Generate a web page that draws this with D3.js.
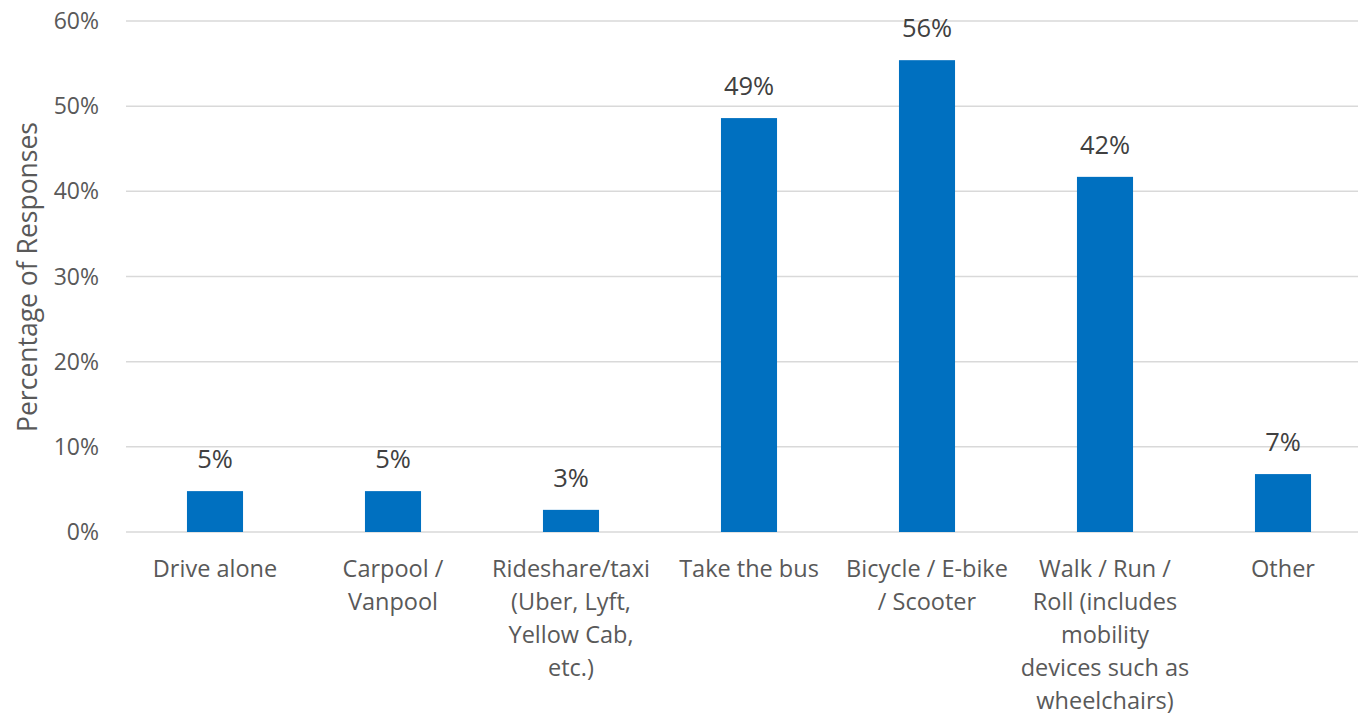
<!DOCTYPE html>
<html>
<head>
<meta charset="utf-8">
<script src="https://cdn.jsdelivr.net/npm/d3@7"></script>
<style>
  body { margin: 0; background: #fff; }
  svg { font-family: "Open Sans", Lato, sans-serif; }
</style>
</head>
<body>
<svg id="chart" width="1358" height="715"></svg>
<script>
// data
const categories = [
    ["Drive alone"],
    ["Carpool /", "Vanpool"],
    ["Rideshare/taxi", "(Uber, Lyft,", "Yellow Cab,", "etc.)"],
    ["Take the bus"],
    ["Bicycle / E-bike", "/ Scooter"],
    ["Walk / Run /", "Roll (includes", "mobility", "devices such as", "wheelchairs)"],
    ["Other"]
];
const values = [4.8, 4.8, 2.6, 48.6, 55.4, 41.7, 6.8];
const valueLabels = ["5%", "5%", "3%", "49%", "56%", "42%", "7%"];
const yTicks = [0, 10, 20, 30, 40, 50, 60];

const marginLeft = 126, plotRight = 1372, plotTop = 21, plotBottom = 532;

const svg = d3.select("#chart");

const x = d3.scaleBand()
    .domain(d3.range(categories.length))
    .range([marginLeft, plotRight])
    .paddingInner(0.685)
    .paddingOuter(0.3425);

const y = d3.scaleLinear().domain([0, 60]).range([plotBottom, plotTop]);

// gridlines
svg.append("g")
    .selectAll("line")
    .data(yTicks)
    .join("line")
    .attr("x1", marginLeft)
    .attr("x2", plotRight)
    .attr("y1", d => y(d))
    .attr("y2", d => y(d))
    .attr("stroke", "#d9d9d9")
    .attr("stroke-width", 1.5);

// y tick labels
svg.append("g")
    .selectAll("text")
    .data(yTicks)
    .join("text")
    .attr("x", 99)
    .attr("y", d => y(d))
    .attr("dy", "0.35em")
    .attr("text-anchor", "end")
    .attr("fill", "#595959")
    .attr("font-size", 23)
    .text(d => d + "%");

// axis title
svg.append("text")
    .attr("transform", `translate(37,${(plotTop + plotBottom) / 2 + 0.5}) rotate(-90)`)
    .attr("text-anchor", "middle")
    .attr("fill", "#595959")
    .attr("font-size", 26.5)
    .text("Percentage of Responses");

// bars
svg.append("g")
    .selectAll("rect")
    .data(values)
    .join("rect")
    .attr("x", (d, i) => x(i))
    .attr("width", x.bandwidth())
    .attr("y", d => y(d))
    .attr("height", d => y(0) - y(d))
    .attr("fill", "#0070c0");

// value labels
svg.append("g")
    .selectAll("text")
    .data(values)
    .join("text")
    .attr("x", (d, i) => x(i) + x.bandwidth() / 2)
    .attr("y", d => y(d) - 23)
    .attr("text-anchor", "middle")
    .attr("fill", "#404040")
    .attr("font-size", 25.5)
    .text((d, i) => valueLabels[i]);

// category labels
const cat = svg.append("g")
    .selectAll("text")
    .data(categories)
    .join("text")
    .attr("text-anchor", "middle")
    .attr("fill", "#595959")
    .attr("font-size", 23.5);

cat.selectAll("tspan")
    .data((d, i) => d.map(s => ({ s, i })))
    .join("tspan")
    .attr("x", d => x(d.i) + x.bandwidth() / 2)
    .attr("y", (d, j) => 577 + j * 33)
    .text(d => d.s);
</script>
</body>
</html>
